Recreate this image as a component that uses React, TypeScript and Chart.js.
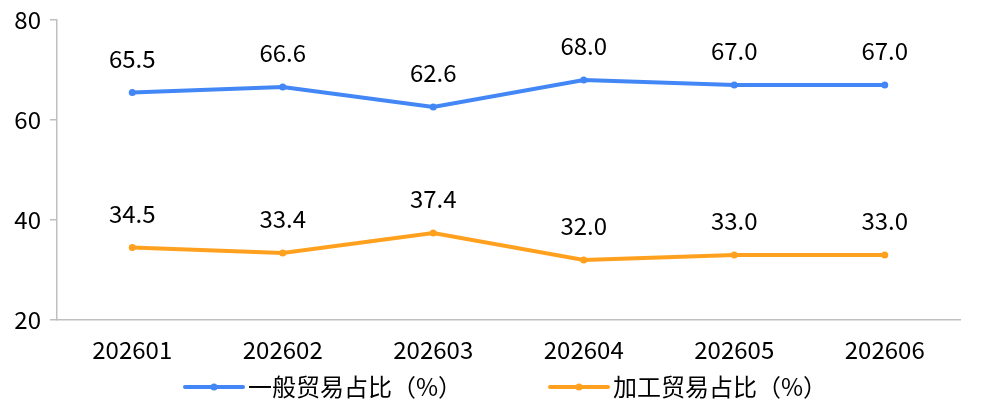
import React, { useEffect, useRef } from 'react';
import { Chart, registerables } from 'chart.js';

Chart.register(...registerables);

const months = ['202601', '202602', '202603', '202604', '202605', '202606'];
const generalTrade = [65.5, 66.6, 62.6, 68.0, 67.0, 67.0];
const processingTrade = [34.5, 33.4, 37.4, 32.0, 33.0, 33.0];
const yTicks = [20, 40, 60, 80];

const FONT = "'Noto Sans CJK SC', 'Noto Sans', sans-serif";
const BLUE = '#4287F5';
const ORANGE = '#FFA11E';
const AXIS = '#BFBFBF';

// value labels above each point
const valueLabels = {
  id: 'valueLabels',
  afterDatasetsDraw(chart: any) {
    const ctx = chart.ctx;
    ctx.save();
    ctx.font = `24px ${FONT}`;
    ctx.fillStyle = '#000';
    ctx.textAlign = 'center';
    ctx.textBaseline = 'middle';
    chart.data.datasets.forEach((ds: any, i: number) => {
      chart.getDatasetMeta(i).data.forEach((pt: any, j: number) => {
        ctx.fillText(Number(ds.data[j]).toFixed(1), pt.x, pt.y - 34);
      });
    });
    ctx.restore();
  },
};

// bottom legend: line with a dot, then the label
const lineLegend = {
  id: 'lineLegend',
  afterDraw(chart: any) {
    const ctx = chart.ctx;
    const starts = [185, 550];
    const y = 387;
    ctx.save();
    ctx.font = `24px ${FONT}`;
    ctx.textBaseline = 'middle';
    ctx.textAlign = 'left';
    chart.data.datasets.forEach((ds: any, i: number) => {
      const x = starts[i];
      ctx.strokeStyle = ds.borderColor;
      ctx.lineWidth = 4;
      ctx.lineCap = 'round';
      ctx.beginPath();
      ctx.moveTo(x, y);
      ctx.lineTo(x + 58, y);
      ctx.stroke();
      ctx.fillStyle = ds.borderColor;
      ctx.beginPath();
      ctx.arc(x + 29, y, 3.5, 0, Math.PI * 2);
      ctx.fill();
      ctx.fillStyle = '#000';
      ctx.fillText(ds.label, x + 63, y);
    });
    ctx.restore();
  },
};

const TradeShareChart: React.FC = () => {
  const chartRef = useRef<HTMLCanvasElement>(null);

  useEffect(() => {
    if (!chartRef.current) return;

    const chart = new Chart(chartRef.current, {
      type: 'line',
      data: {
        labels: months,
        datasets: [
          {
            label: '一般贸易占比（%）',
            data: generalTrade,
            borderColor: BLUE,
            backgroundColor: BLUE,
            borderWidth: 4,
            pointRadius: 3.5,
            pointBorderWidth: 0,
            tension: 0,
          },
          {
            label: '加工贸易占比（%）',
            data: processingTrade,
            borderColor: ORANGE,
            backgroundColor: ORANGE,
            borderWidth: 4,
            pointRadius: 3.5,
            pointBorderWidth: 0,
            tension: 0,
          },
        ],
      },
      options: {
        responsive: false,
        animation: false,
        layout: { padding: { top: 20, right: 23, left: 0, bottom: 0 } },
        plugins: {
          legend: { display: false },
          tooltip: { enabled: false },
        },
        scales: {
          x: {
            offset: true,
            grid: { display: false, drawTicks: false },
            border: { color: AXIS, width: 1.5 },
            ticks: {
              color: '#000',
              font: { family: FONT, size: 24 },
              padding: 15,
              maxRotation: 0,
            },
            afterFit: (s: any) => {
              s.height = 94;
              s.paddingLeft = 0;
              s.paddingRight = 0;
            },
          },
          y: {
            min: 20,
            max: 80,
            afterBuildTicks: (s: any) => {
              s.ticks = yTicks.map((v) => ({ value: v }));
            },
            grid: { drawOnChartArea: false, tickLength: 7, color: AXIS, lineWidth: 1.5 },
            border: { color: AXIS, width: 1.5 },
            ticks: {
              color: '#000',
              font: { family: FONT, size: 24 },
              padding: 9,
            },
            afterFit: (s: any) => {
              s.width = 57;
              s.paddingTop = 0;
              s.paddingBottom = 0;
            },
          },
        },
      },
      plugins: [valueLabels, lineLegend],
    });

    return () => chart.destroy();
  }, []);

  return (
    <div style={{ position: 'absolute', left: 0, top: 0, width: 983, height: 414, background: '#fff' }}>
      <canvas ref={chartRef} width={983} height={414}></canvas>
    </div>
  );
};

export default function App() {
  return <TradeShareChart />;
}
